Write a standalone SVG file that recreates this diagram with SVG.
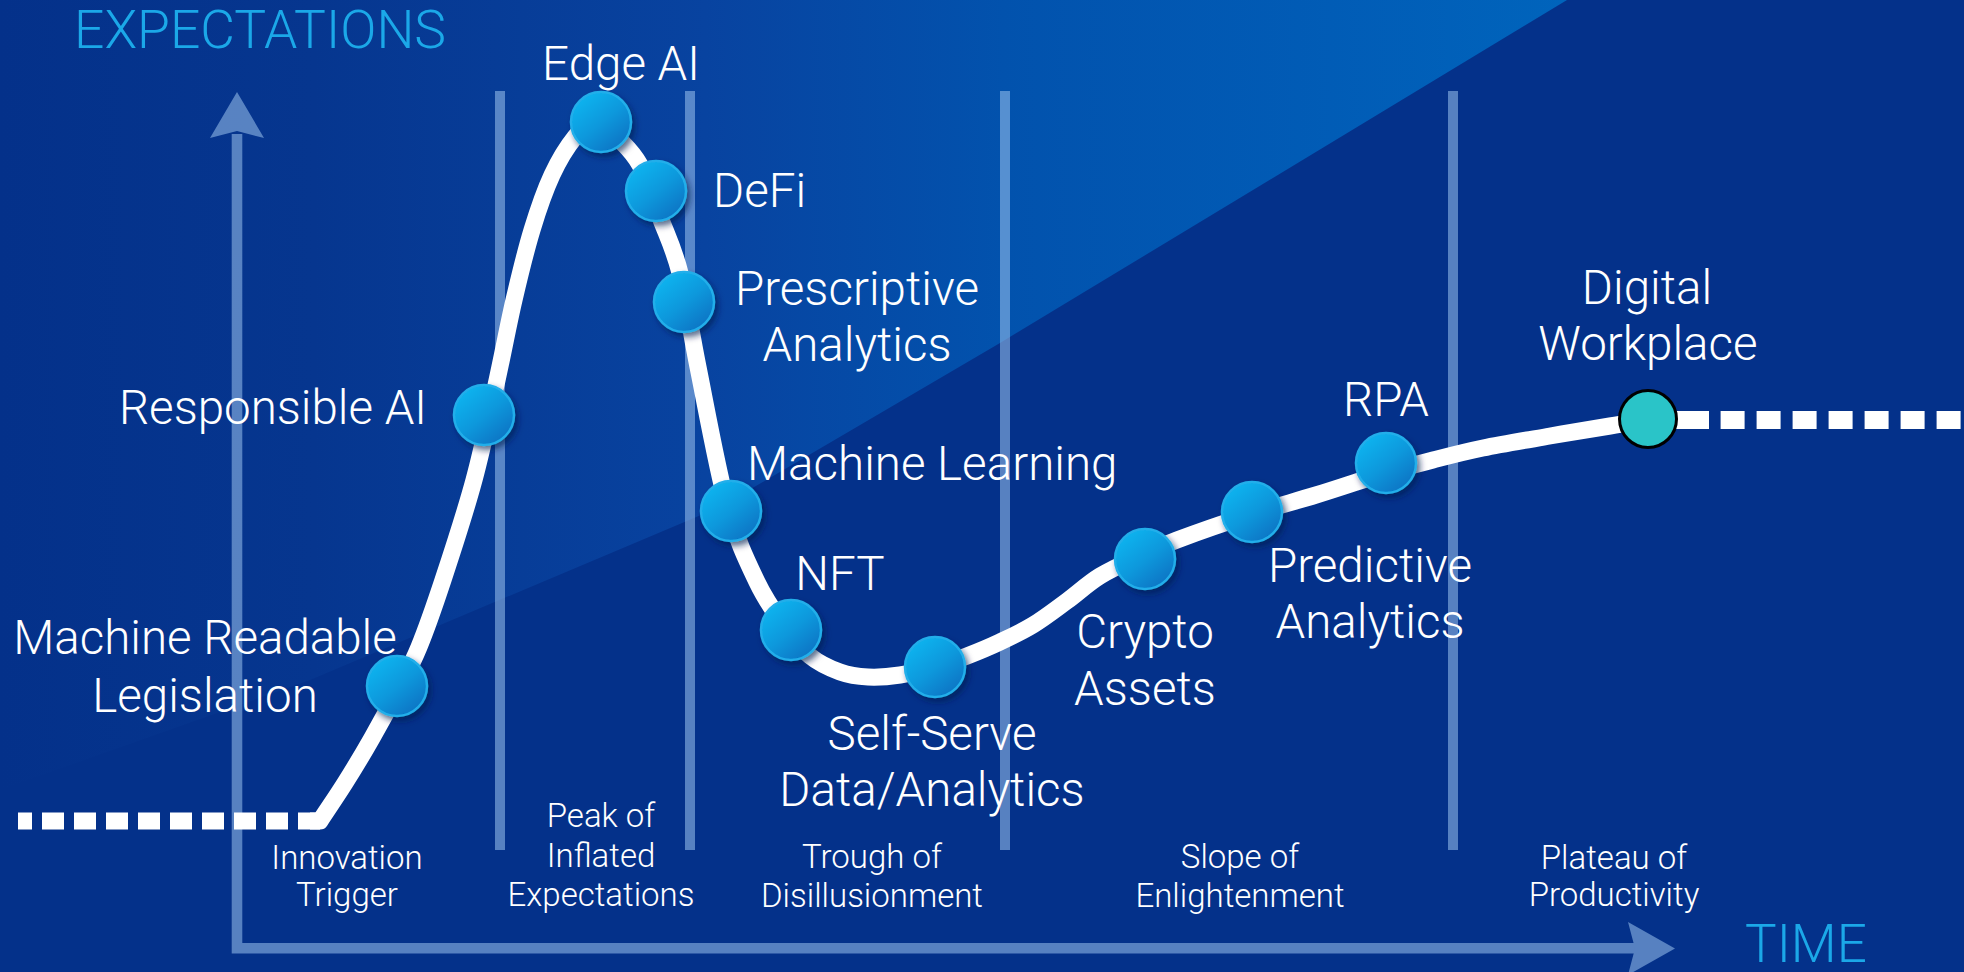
<svg xmlns="http://www.w3.org/2000/svg" width="1964" height="972" viewBox="0 0 1964 972">
<defs>
  <linearGradient id="wedge" gradientUnits="userSpaceOnUse" x1="0" y1="0" x2="1567" y2="0">
    <stop offset="0" stop-color="#04318a"/>
    <stop offset="0.2" stop-color="#06368f"/>
    <stop offset="0.45" stop-color="#0843a0"/>
    <stop offset="0.64" stop-color="#0252ad"/>
    <stop offset="0.85" stop-color="#015cb6"/>
    <stop offset="1" stop-color="#0064bc"/>
  </linearGradient>
  <linearGradient id="ball" x1="0.2" y1="0.1" x2="0.85" y2="0.9">
    <stop offset="0" stop-color="#0bb2ee"/>
    <stop offset="0.5" stop-color="#0a98dc"/>
    <stop offset="1" stop-color="#0774c4"/>
  </linearGradient>
  <filter id="shadow" x="-30%" y="-30%" width="170%" height="170%">
    <feDropShadow dx="3" dy="4" stdDeviation="3" flood-color="#001a50" flood-opacity="0.65"/>
  </filter>
  <style>
    .ball { fill: url(#ball); stroke: #22aeea; stroke-width: 2.5; filter: url(#shadow); }
    .lbl { font-family: "Roboto Light", Roboto, "Liberation Sans", sans-serif; font-weight: 300; font-size: 47.5px; fill: #ffffff; }
    .phase { font-family: "Roboto Light", Roboto, "Liberation Sans", sans-serif; font-weight: 300; font-size: 33px; fill: #ffffff; text-anchor: middle; }
    .axis-title { font-family: "Roboto Light", Roboto, "Liberation Sans", sans-serif; font-weight: 300; font-size: 53px; fill: #1ba8e8; }
    .mid { text-anchor: middle; }
    .end { text-anchor: end; }
    .div { fill: #9cc3ee; opacity: 0.55; }
    .curve { fill: none; stroke: #ffffff; stroke-width: 17; stroke-linejoin: round; }
  </style>
</defs>

<g id="background">
  <rect x="0" y="0" width="1964" height="972" fill="#04318a"/>
  <path d="M1567,0 L1000,343 L720,507 L310,680 L0,790 L0,0 Z" fill="url(#wedge)"/>
</g>

<g id="dividers">
  <rect class="div" x="495" y="91" width="10" height="759"/>
  <rect class="div" x="685" y="91" width="10" height="759"/>
  <rect class="div" x="1000" y="91" width="10" height="759"/>
  <rect class="div" x="1448" y="91" width="10" height="759"/>
</g>

<g id="axes" opacity="0.55" fill="#9cc3ee">
  <path d="M237,134 V948.3 H1636" fill="none" stroke="#9cc3ee" stroke-width="10.6" stroke-linejoin="miter"/>
  <polygon points="237,92 264,138 237,131 210,138"/>
  <polygon points="1675,948.5 1628,922 1635,948.5 1628,975"/>
</g>

<g id="axis-labels">
  <text class="axis-title" x="74" y="48" textLength="372" lengthAdjust="spacingAndGlyphs">EXPECTATIONS</text>
  <text class="axis-title" x="1745" y="962">TIME</text>
</g>

<g id="connectors">
  <line x1="320" y1="821" x2="18" y2="821" stroke="#ffffff" stroke-width="17" stroke-dasharray="22 10"/>
  <line x1="1648" y1="420" x2="1709" y2="420" stroke="#ffffff" stroke-width="18"/>
  <line x1="1720.6" y1="420" x2="1964" y2="420" stroke="#ffffff" stroke-width="18" stroke-dasharray="24 12"/>
  <path class="curve" d="M310,821 L320,821 C328.3,808.3 336.3,796.8 345,783 C353.7,769.2 363.2,753.5 372,738 C380.8,722.5 390.2,705.2 398,690 C405.8,674.8 411.5,665.3 419,647 C426.5,628.7 433.8,607.8 443,580 C452.2,552.2 465.2,512.5 474,480 C482.8,447.5 489.3,415 496,385 C502.7,355 508,325.8 514,300 C520,274.2 525.7,250.8 532,230 C538.3,209.2 544.8,190.5 552,175 C559.2,159.5 567.5,146.3 575,137 C582.5,127.7 589.8,118.8 597,119 C604.2,119.2 610.8,130.3 618,138 C625.2,145.7 633,151.8 640,165 C647,178.2 653.3,199 660,217 C666.7,235 673.7,248 680,273 C686.3,298 690.2,328.3 698,367 C705.8,405.7 717.2,469.2 727,505 C736.8,540.8 747.3,561.7 757,582 C766.7,602.3 776.2,614.7 785,627 C793.8,639.3 800.8,648.5 810,656 C819.2,663.5 830.3,668.5 840,672 C849.7,675.5 858,676.5 868,677 C878,677.5 888.8,676.7 900,675 C911.2,673.3 923.8,670.2 935,667 C946.2,663.8 956.2,660.2 967,656 C977.8,651.8 989,647.2 1000,642 C1011,636.8 1021.8,631.8 1033,625 C1044.2,618.2 1055.8,609.2 1067,601 C1078.2,592.8 1087.8,583.5 1100,576 C1112.2,568.5 1127.2,562 1140,556 C1152.8,550 1158.3,547 1177,540 C1195.7,533 1228.8,521.5 1252,514 C1275.2,506.5 1293.8,501.8 1316,495 C1338.2,488.2 1365.5,478.8 1385,473 C1404.5,467.2 1416.7,464.2 1433,460 C1449.3,455.8 1463.5,452 1483,448 C1502.5,444 1528.8,439.7 1550,436 C1571.2,432.3 1593.7,428.8 1610,426 C1626.3,423.2 1635.3,421.3 1648,419"/>
</g>

<g id="node-machine-readable-legislation">
  <circle class="ball" cx="397" cy="686" r="30"/>
  <text class="lbl mid" x="205" y="654">Machine Readable</text>
  <text class="lbl mid" x="205" y="712">Legislation</text>
</g>
<g id="node-responsible-ai">
  <circle class="ball" cx="484" cy="415" r="30"/>
  <text class="lbl end" x="427" y="424">Responsible AI</text>
</g>
<g id="node-edge-ai">
  <circle class="ball" cx="601" cy="122" r="30"/>
  <text class="lbl mid" x="621" y="80">Edge AI</text>
</g>
<g id="node-defi">
  <circle class="ball" cx="656" cy="191" r="30"/>
  <text class="lbl" x="713" y="207">DeFi</text>
</g>
<g id="node-prescriptive-analytics">
  <circle class="ball" cx="684" cy="302" r="30"/>
  <text class="lbl mid" x="857" y="305">Prescriptive</text>
  <text class="lbl mid" x="857" y="361">Analytics</text>
</g>
<g id="node-machine-learning">
  <circle class="ball" cx="731" cy="511" r="30"/>
  <text class="lbl" x="747" y="480">Machine Learning</text>
</g>
<g id="node-nft">
  <circle class="ball" cx="791" cy="630" r="30"/>
  <text class="lbl mid" x="840" y="590">NFT</text>
</g>
<g id="node-self-serve">
  <circle class="ball" cx="935" cy="667" r="30"/>
  <text class="lbl mid" x="932" y="750">Self-Serve</text>
  <text class="lbl mid" x="932" y="806">Data/Analytics</text>
</g>
<g id="node-crypto-assets">
  <circle class="ball" cx="1145" cy="559" r="30"/>
  <text class="lbl mid" x="1145" y="648">Crypto</text>
  <text class="lbl mid" x="1145" y="705">Assets</text>
</g>
<g id="node-predictive-analytics">
  <circle class="ball" cx="1252" cy="512" r="30"/>
  <text class="lbl mid" x="1370" y="582">Predictive</text>
  <text class="lbl mid" x="1370" y="638">Analytics</text>
</g>
<g id="node-rpa">
  <circle class="ball" cx="1386" cy="463" r="30"/>
  <text class="lbl mid" x="1386" y="416">RPA</text>
</g>
<g id="node-digital-workplace">
  <circle cx="1648" cy="419" r="28.5" fill="#2ac4c8" stroke="#000000" stroke-width="3"/>
  <text class="lbl mid" x="1647" y="304">Digital</text>
  <text class="lbl mid" x="1648" y="360">Workplace</text>
</g>

<g id="phase-labels">
  <text class="phase" x="347" y="869">Innovation</text>
  <text class="phase" x="347" y="906">Trigger</text>
  <text class="phase" x="601" y="827">Peak of</text>
  <text class="phase" x="601" y="867">Inflated</text>
  <text class="phase" x="601" y="906">Expectations</text>
  <text class="phase" x="872" y="868">Trough of</text>
  <text class="phase" x="872" y="907">Disillusionment</text>
  <text class="phase" x="1240" y="868">Slope of</text>
  <text class="phase" x="1240" y="907">Enlightenment</text>
  <text class="phase" x="1614" y="869">Plateau of</text>
  <text class="phase" x="1614" y="906">Productivity</text>
</g>
</svg>
